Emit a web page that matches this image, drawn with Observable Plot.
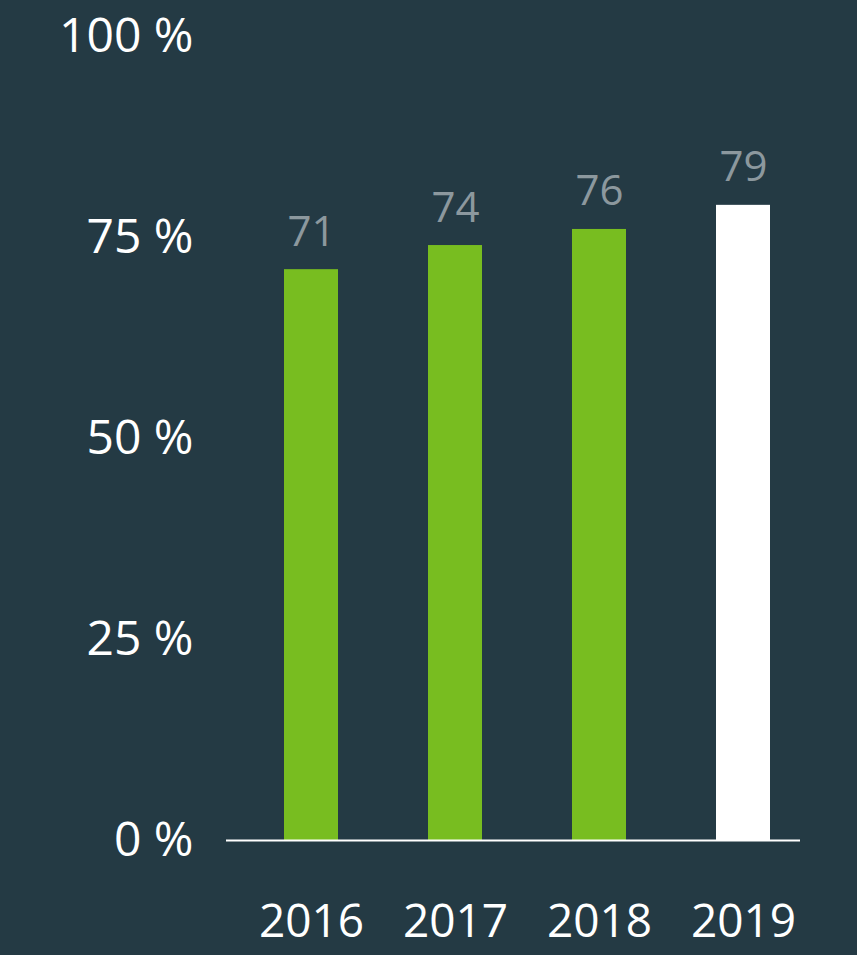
<!DOCTYPE html>
<html>
<head>
<meta charset="utf-8">
<script src="https://cdn.jsdelivr.net/npm/d3@7"></script>
<script src="https://cdn.jsdelivr.net/npm/@observablehq/plot@0.6"></script>
<style>
  html, body { margin: 0; padding: 0; background: #243a44; }
  #chart svg { display: block; }
</style>
</head>
<body>
<div id="chart"></div>
<script>
const years = ["2016", "2017", "2018", "2019"];
const values = [71, 74, 76, 79];
const barColors = ["#78bd20", "#78bd20", "#78bd20", "#ffffff"];
const yTicks = [0, 25, 50, 75, 100];

const data = years.map((y, i) => ({year: y, value: values[i], color: barColors[i]}));

const chart = Plot.plot({
  width: 857,
  height: 955,
  marginLeft: 226,
  marginRight: 57,
  marginTop: 36,
  marginBottom: 115,
  style: {background: "#243a44", fontFamily: "'Open Sans', sans-serif", color: "#ffffff"},
  x: {domain: years, paddingInner: 0.628, paddingOuter: 0.2935, align: 0.66, label: null},
  y: {domain: [0, 100], label: null},
  marks: [
    Plot.barY(data, {x: "year", y: "value", fill: d => d.color}),
    Plot.ruleY([0], {stroke: "#ffffff", strokeWidth: 2}),
    Plot.text(data, {x: "year", y: "value", text: d => String(d.value), fill: "#8c989e", fontSize: 42, lineAnchor: "bottom", dy: -24}),
    Plot.axisY(yTicks, {tickSize: 0, tickPadding: 33, fontSize: 48, fill: "#ffffff", tickFormat: d => d + " %"}),
    Plot.axisX({tickSize: 0, tickPadding: 64, fontSize: 46, fill: "#ffffff"})
  ]
});
document.getElementById("chart").appendChild(chart);
</script>
</body>
</html>
